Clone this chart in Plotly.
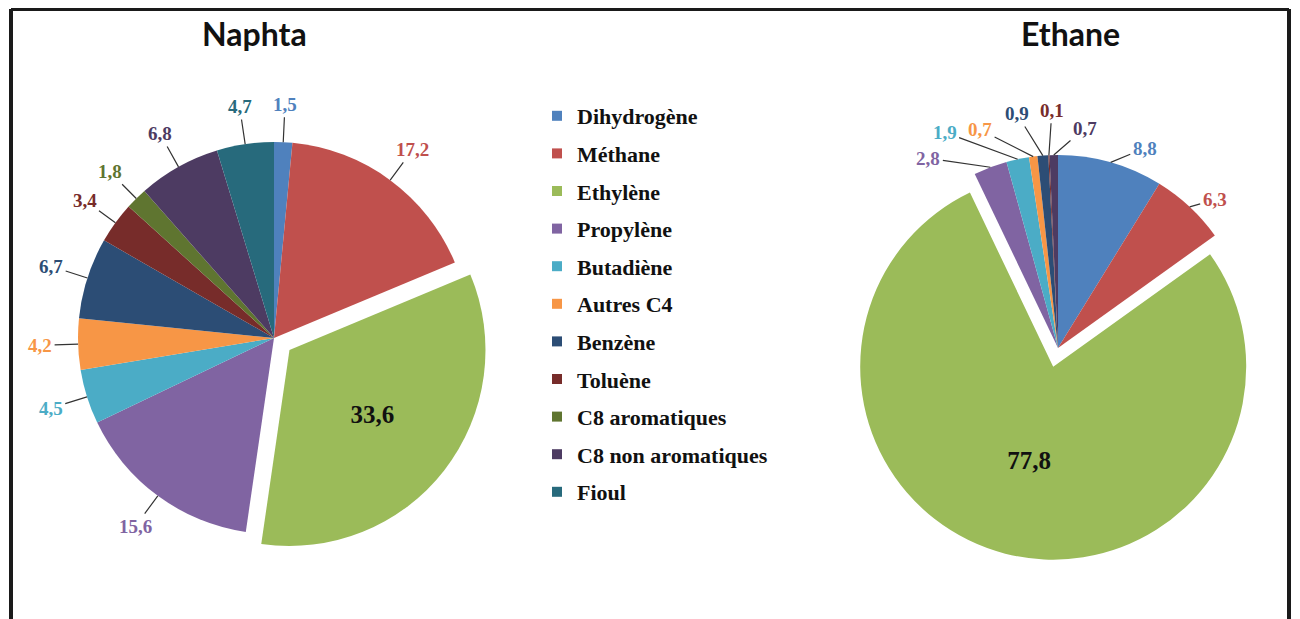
import math
import plotly.graph_objects as go

categories = ["Dihydrogène", "Méthane", "Ethylène", "Propylène", "Butadiène",
              "Autres C4", "Benzène", "Toluène", "C8 aromatiques",
              "C8 non aromatiques", "Fioul"]
naphta_values = [1.5, 17.2, 33.6, 15.6, 4.5, 4.2, 6.7, 3.4, 1.8, 6.8, 4.7]
ethane_values = [8.8, 6.3, 77.8, 2.8, 1.9, 0.7, 0.9, 0.1, 0.0, 0.7, 0.0]
colors = ["#4F81BD", "#C0504D", "#9BBB59", "#8064A2", "#4BACC6", "#F79646",
          "#2C4D75", "#772C2A", "#5F7530", "#4D3B62", "#276A7C"]
titles = ["Naphta", "Ethane"]

SERIF = "Liberation Serif"
FW, FH = 1292, 611      # figure size (page body has an 8 px margin)
OFF = 8                 # body margin offset in the screenshot
PULL = 0.1


def fmt(v):
    return "" if v == 0 else f"{v:.1f}".replace(".", ",")


def px(sx):             # screenshot x -> paper x
    return (sx - OFF) / FW


def py(sy):             # screenshot y -> paper y
    return 1 - (sy - OFF) / FH


# pie layout (screen pixels): centre and radius
pies = [dict(cx=274, cy=338, r=196, values=naphta_values, gap=38),
        dict(cx=1058, cy=348, r=193, values=ethane_values, gap=30)]

# manual label offsets (pixels from the slice edge) for the ethane labels
ethane_label_offsets = {
    "Dihydrogène": (34, -14),
    "Méthane": (25, -7),
    "Propylène": (-62, -9),
    "Butadiène": (-73, -27),
    "Autres C4": (-53, -27),
    "Benzène": (-26, -42),
    "Toluène": (3, -45),
    "C8 non aromatiques": (31, -27),
}
label_offsets = [{}, ethane_label_offsets]

fig = go.Figure()
annotations = []

for k, p in enumerate(pies):
    values = p["values"]
    big = max(values)
    half = p["r"] * (1 + PULL)
    dom_x = [px(p["cx"] - half), px(p["cx"] + half)]
    dom_y = [py(p["cy"] + half), py(p["cy"] - half)]
    fig.add_trace(go.Pie(
        labels=categories, values=values, sort=False, direction="clockwise",
        rotation=0, marker=dict(colors=colors, line=dict(width=0)),
        text=[fmt(v) for v in values], texttemplate="%{text}",
        textposition=["inside" if v == big else "none" for v in values],
        insidetextorientation="horizontal",
        textfont=dict(family=SERIF, color="#111111", size=25, weight="bold"),
        pull=[PULL if v == big else 0 for v in values],
        showlegend=False, hoverinfo="label+value",
        domain=dict(x=dom_x, y=dom_y),
    ))

    total = sum(values)
    cum = 0.0
    for cat, v, col in zip(categories, values, colors):
        mid = (cum + v / 2) / total * 2 * math.pi
        cum += v
        if v == 0 or v == big:
            continue
        ex = p["cx"] + p["r"] * math.sin(mid)
        ey = p["cy"] - p["r"] * math.cos(mid)
        if cat in label_offsets[k]:
            ax, ay = label_offsets[k][cat]
        else:
            ax = p["gap"] * math.sin(mid)
            ay = -p["gap"] * math.cos(mid)
        annotations.append(dict(
            text=fmt(v), x=px(ex), y=py(ey), xref="paper", yref="paper",
            ax=ax, ay=ay, showarrow=True, arrowhead=0, arrowwidth=1.2,
            arrowcolor="#333333", standoff=0, startstandoff=1,
            font=dict(family=SERIF, size=19, color=col, weight="bold")))

# legend entries (one per category)
for i, (cat, col) in enumerate(zip(categories, colors)):
    fig.add_trace(go.Scatter(
        x=[None], y=[None], mode="markers", name=cat,
        marker=dict(symbol="square", size=10, color=col),
        legendgroup=f"g{i}", showlegend=True, hoverinfo="skip"))

for t, tx in zip(titles, [255, 1070]):
    annotations.append(dict(
        text=t, x=px(tx), y=py(34), xref="paper", yref="paper",
        showarrow=False, xanchor="center", yanchor="middle",
        font=dict(family="Lato", size=32, color="#111111", weight="bold")))

frame = dict(color="#1a1a1a", width=4)
top = py(9)
shapes = [
    dict(type="line", xref="paper", yref="paper", x0=px(11), x1=px(11),
         y0=-0.05, y1=top, line=frame),
    dict(type="line", xref="paper", yref="paper", x0=px(11), x1=px(1289),
         y0=top, y1=top, line=frame),
    dict(type="line", xref="paper", yref="paper", x0=px(1289), x1=px(1289),
         y0=-0.05, y1=top, line=frame),
]

fig.update_layout(
    width=FW, height=FH,
    margin=dict(l=0, r=0, t=0, b=0),
    paper_bgcolor="white", plot_bgcolor="white",
    xaxis=dict(visible=False), yaxis=dict(visible=False),
    showlegend=True,
    legend=dict(x=px(537), y=py(95), xanchor="left", yanchor="top",
                traceorder="grouped", tracegroupgap=6,
                font=dict(family=SERIF, size=22, color="#111111", weight="bold"),
                bgcolor="rgba(0,0,0,0)", itemclick=False, itemdoubleclick=False),
    annotations=annotations, shapes=shapes,
)

fig.write_html("out.html")
